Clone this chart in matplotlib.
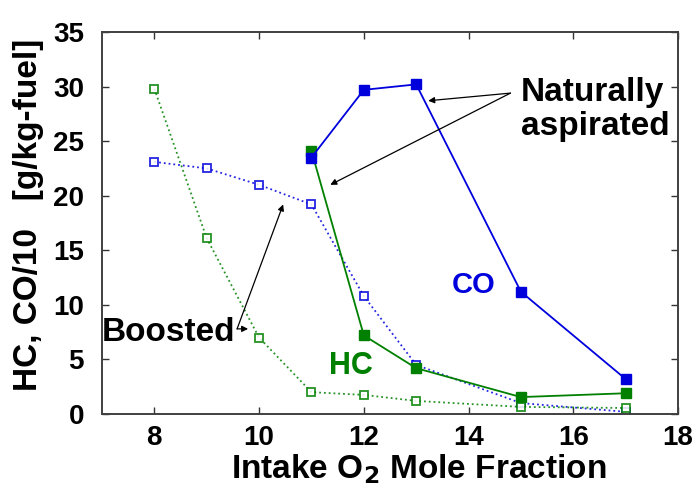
import matplotlib
matplotlib.use("Agg")
import matplotlib.pyplot as plt

plt.rcParams['font.family'] = ['Liberation Sans', 'DejaVu Sans']
plt.rcParams['font.weight'] = 'bold'

# Intake O2 mole fraction
x_boost = [8, 9, 10, 11, 12, 13, 15, 17]
x_na = [11, 12, 13, 15, 17]

# Boosted (open squares, dotted)
co_boost = [23.1, 22.5, 21.0, 19.2, 10.8, 4.5, 1.0, 0.2]
hc_boost = [29.8, 16.1, 7.0, 2.0, 1.75, 1.2, 0.65, 0.55]

# Naturally aspirated (filled squares, solid)
co_na = [23.5, 29.7, 30.2, 11.2, 3.2]
hc_na = [24.1, 7.2, 4.2, 1.55, 1.9]

x_ticks = [8, 10, 12, 14, 16, 18]
y_ticks = [0, 5, 10, 15, 20, 25, 30, 35]

blue = '#0000DD'
green = '#008000'

fig = plt.figure(figsize=(7.0, 4.87), dpi=100)
ax = fig.add_axes([0.1457, 0.1499, 0.8229, 0.7844])

ax.plot(x_boost, co_boost, ':', color=blue, lw=1.3, marker='s', ms=5.5,
        mfc='white', mec=blue, mew=1.3, alpha=0.85)
ax.plot(x_boost, hc_boost, ':', color=green, lw=1.3, marker='s', ms=5.5,
        mfc='white', mec=green, mew=1.3, alpha=0.85)
ax.plot(x_na, hc_na, '-', color=green, lw=1.3, marker='s', ms=6.5,
        mfc=green, mec=green)
ax.plot(x_na, co_na, '-', color=blue, lw=1.3, marker='s', ms=6.5,
        mfc=blue, mec=blue)

ax.set_xlim(7, 18)
ax.set_ylim(0, 35)
ax.set_xticks(x_ticks)
ax.set_yticks(y_ticks)
ax.tick_params(direction='in', length=5, width=1, top=True, right=True,
               labelsize=20, colors='#333333', labelcolor='black')
ax.tick_params(axis='x', pad=8)
ax.tick_params(axis='y', pad=13)
for lab in ax.get_xticklabels() + ax.get_yticklabels():
    lab.set_fontweight('bold')
for sp in ax.spines.values():
    sp.set_color('#404040')
    sp.set_linewidth(1.4)

ax.set_xlabel('Intake O$_\\mathbf{2}$ Mole Fraction', fontsize=24,
              fontweight='bold', va='center')
ax.xaxis.set_label_coords(0.549, -0.144)
ax.set_ylabel('HC, CO/10   [g/kg-fuel]', fontsize=24, fontweight='bold',
              va='center')
ax.yaxis.set_label_coords(-0.128, 0.52)

arrow = dict(arrowstyle='-|>', color='black', lw=0.9, mutation_scale=9,
             shrinkA=0, shrinkB=0)

# Naturally aspirated annotation
ax.text(15.0, 27.9, 'Naturally\naspirated', fontsize=24, fontweight='bold',
        ha='left', va='center', linespacing=1.12)
ax.annotate('', xy=(13.23, 28.7), xytext=(14.8, 29.4), arrowprops=arrow)
ax.annotate('', xy=(11.36, 21.0), xytext=(14.8, 29.4), arrowprops=arrow)

# Boosted annotation
ax.text(8.27, 7.5, 'Boosted', fontsize=24, fontweight='bold',
        ha='center', va='center')
ax.annotate('', xy=(10.46, 19.2), xytext=(9.58, 7.8), arrowprops=arrow)
ax.annotate('', xy=(9.79, 7.8), xytext=(9.58, 7.8), arrowprops=arrow)

ax.text(14.1, 11.8, 'CO', fontsize=21, fontweight='bold', color=blue,
        ha='center', va='center')
ax.text(11.75, 4.4, 'HC', fontsize=22, fontweight='bold', color=green,
        ha='center', va='center')

fig.savefig('out.png', dpi=100)
